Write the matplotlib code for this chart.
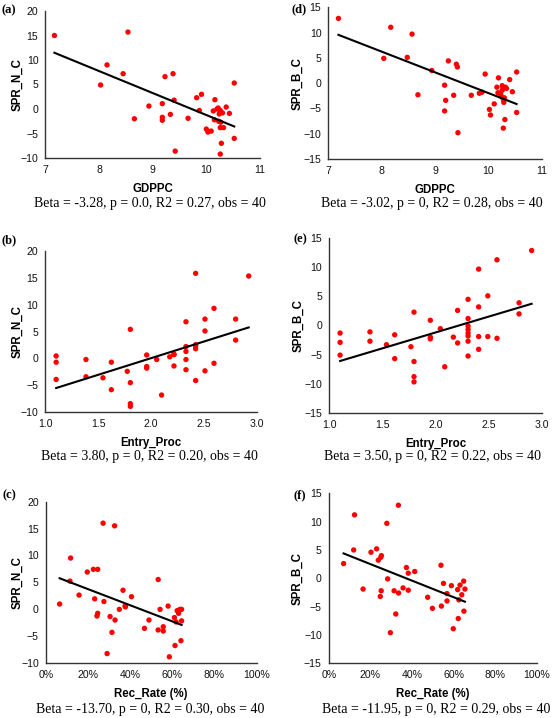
import numpy as np
import matplotlib.pyplot as plt
from matplotlib.ticker import PercentFormatter, FormatStrFormatter

W, H = 555, 718

# (a) GDPPC vs SPR_N_C
gdppc_a = [7.17, 8.54, 8.15, 8.03, 8.45, 8.66, 8.93, 9.18, 9.18, 9.18,
           9.23, 9.38, 9.40, 9.33, 9.42, 9.66, 9.82, 9.91, 9.87, 10.16,
           10.00, 10.03, 10.09, 10.13, 10.15, 10.22, 10.26, 10.30, 10.37, 10.43,
           10.52, 10.52, 10.26, 10.32, 10.28, 10.26, 10.23, 10.27, 10.20, 10.24]
spr_n_a = [15.0, 15.7, 9.0, 4.9, 7.2, -2.0, 0.6, 1.1, -1.7, -2.3,
           6.6, 7.2, 1.8, -1.1, -8.6, -1.9, 2.3, 3.0, -0.3, 1.9,
           -4.1, -4.7, -4.5, -0.4, -2.2, 0.2, -0.3, -0.8, 0.4, -0.9,
           5.3, -6.0, -3.8, -3.8, -7.0, -9.2, -2.5, -2.7, 0.0, -1.0]

# (d) GDPPC vs SPR_B_C
gdppc_d = [7.19, 8.17, 8.57, 8.04, 8.48, 8.68, 8.94, 9.25, 9.40, 9.42,
           9.18, 9.20, 9.18, 9.35, 9.43, 9.68, 9.83, 9.88, 9.94, 10.02,
           10.04, 10.11, 10.16, 10.19, 10.23, 10.26, 10.30, 10.29, 10.31, 10.28,
           10.34, 10.40, 10.45, 10.53, 10.53, 10.24, 10.28, 10.18, 10.32, 10.26]
spr_b_d = [12.8, 11.05, 9.7, 4.9, 5.1, -2.3, 2.5, 4.4, 3.75, 3.2,
           -0.4, -3.4, -5.5, -2.4, -9.8, -2.4, -2.0, -1.8, 1.8, -5.2,
           -6.3, -4.1, -0.8, 1.05, -2.2, -1.4, -2.9, -3.8, -7.2, -8.9,
           -1.05, 0.7, -1.7, 2.2, -5.8, -2.6, -3.2, -1.9, -0.8, -0.5]

# (b) Entry_Proc vs SPR_N_C
entry_b = [1.105, 1.105, 1.105, 1.386, 1.386, 1.546, 1.625, 1.625, 1.775, 1.804,
           1.804, 1.804, 1.804, 1.958, 1.958, 1.958, 2.052, 2.098, 2.175, 2.215,
           2.215, 2.328, 2.328, 2.328, 2.328, 2.328, 2.419, 2.419, 2.419, 2.419,
           2.507, 2.507, 2.507, 2.592, 2.592, 2.796, 2.796, 2.919, 2.419, 2.215]
spr_n_b = [0.46, -0.7, -3.9, -0.2, -3.4, -3.6, -0.7, -5.8, -2.4, 5.4,
           -4.5, -8.4, -8.9, 0.64, -1.5, -1.8, -0.2, -6.8, 0.3, 0.8,
           -1.4, 6.8, 2.2, 1.3, -0.2, -2.1, 15.8, 2.55, 1.8, -4.1,
           7.3, 5.1, -2.3, 9.3, -0.9, 7.3, 3.4, 15.3, 2.3, 0.7]

# (e) Entry_Proc vs SPR_B_C
entry_e = [1.104, 1.104, 1.104, 1.384, 1.384, 1.539, 1.616, 1.616, 1.768, 1.797,
           1.797, 1.797, 1.797, 1.950, 1.950, 1.950, 2.044, 2.085, 2.166, 2.206,
           2.206, 2.304, 2.304, 2.304, 2.304, 2.304, 2.304, 2.304, 2.304, 2.403,
           2.403, 2.403, 2.403, 2.489, 2.489, 2.575, 2.575, 2.782, 2.782, 2.900]
spr_b_e = [-1.3, -2.9, -5.1, -1.1, -2.7, -3.3, -1.6, -5.7, -3.65, 2.3,
           -6.2, -8.8, -9.7, 0.9, -2.0, -2.3, -0.55, -7.1, -2.0, 2.6,
           -3.0, 4.5, 1.2, -0.1, -0.7, -1.3, -1.8, -2.7, -5.25, 9.7,
           3.2, -1.9, -4.1, 5.1, -1.9, 11.3, -2.2, 3.9, 2.0, 12.9]

# (c) Rec_Rate (%) vs SPR_N_C
rec_c = [6.6, 11.8, 11.5, 15.8, 19.7, 22.6, 24.65, 23.2, 24.65, 24.3,
         27.2, 27.6, 29.1, 30.5, 32.65, 31.4, 32.85, 34.9, 36.65, 37.6,
         37.8, 40.65, 46.8, 48.95, 53.3, 53.3, 54.2, 55.7, 55.7, 58.0,
         58.6, 61.0, 61.3, 62.3, 63.0, 63.6, 64.1, 64.4, 64.4, 61.8]
spr_n_c = [0.93, 9.5, 5.2, 2.6, 6.9, 7.4, 7.4, 1.9, -0.8, -1.3,
           16.0, 1.4, -8.3, -1.4, 15.5, -4.35, -2.05, -0.06, 3.5, 0.55,
           0.4, 2.3, -3.6, -2.05, 5.5, -3.9, -0.06, -3.3, -4.1, 0.55,
           -8.9, -1.6, -6.8, -0.3, -0.8, -0.06, -5.9, -0.06, -2.2, -2.4]

# (f) Rec_Rate (%) vs SPR_B_C
rec_f = [7.15, 12.4, 12.0, 16.5, 20.3, 23.0, 23.8, 25.3, 25.0, 25.2,
         24.75, 27.9, 28.3, 29.6, 31.4, 32.2, 33.45, 33.55, 35.7, 37.3,
         38.2, 38.2, 41.3, 47.5, 49.8, 53.9, 54.1, 55.1, 56.8, 56.8,
         58.9, 59.8, 61.9, 62.5, 62.2, 63.05, 63.9, 64.8, 65.4, 64.9]
spr_b_f = [2.6, 11.2, 5.0, -1.9, 4.6, 5.2, 3.2, 4.0, 3.7, -2.2,
           -3.2, 9.7, -0.1, -9.6, -2.2, -6.3, 12.9, -2.6, -1.7, 1.9,
           0.9, -2.1, 1.2, -3.35, -5.3, 2.3, -4.9, -0.9, -2.7, -4.0,
           -1.3, -8.9, -2.0, -3.8, -7.1, -1.2, -2.9, -0.5, -1.9, -5.8]

captions = ['Beta = -3.28, p = 0.0, R2 = 0.27, obs = 40',
            'Beta = 3.80, p = 0, R2 = 0.20, obs = 40',
            'Beta = -13.70, p = 0, R2 = 0.30, obs = 40',
            'Beta = -3.02, p = 0, R2 = 0.28, obs = 40',
            'Beta = 3.50, p = 0, R2 = 0.22, obs = 40',
            'Beta = -11.95, p = 0, R2 = 0.29, obs = 40']

SANS = 'Liberation Sans'
SERIF = 'Liberation Serif'

fig = plt.figure(figsize=(W / 100, H / 100), dpi=100)


def panel(rect, x, y, xlabel, ylabel, xlim, xticks, ylim, yticks, fmt,
          letter, letter_xy, caption, cap_xy, ylab_off):
    left, top, right, bottom = rect
    w = right - left
    h = bottom - top
    ax = fig.add_axes([left / W, 1 - bottom / H, w / W, h / H])
    ax.scatter(x, y, s=15, color='#ff0000', edgecolors='none', zorder=3)
    # least squares line over the data range
    k, b = np.polyfit(x, y, 1)
    xs = np.array([min(x), max(x)])
    ax.plot(xs, k * xs + b, color='black', lw=1.5, zorder=4)
    ax.set_xlim(xlim)
    ax.set_ylim(ylim)
    ax.set_xticks(xticks)
    ax.set_yticks(yticks)
    ax.xaxis.set_major_formatter(fmt)
    for s in ['top', 'right']:
        ax.spines[s].set_visible(False)
    for s in ['left', 'bottom']:
        ax.spines[s].set_color('#333333')
        ax.spines[s].set_linewidth(1.0)
    ax.tick_params(length=0, labelsize=7.6, pad=5, labelcolor='#111111')
    for t in ax.get_xticklabels() + ax.get_yticklabels():
        t.set_fontfamily(SANS)
    ax.set_xlabel(xlabel, fontfamily=SANS, fontweight='bold', fontsize=8.3)
    ax.set_ylabel(ylabel, fontfamily=SANS, fontweight='bold', fontsize=8.3)
    ax.xaxis.set_label_coords(0.5, -25 / h)
    ax.yaxis.set_label_coords(-ylab_off / w, 0.5)
    fig.text(letter_xy[0] / W, 1 - letter_xy[1] / H, letter, fontfamily=SERIF,
             fontweight='bold', fontsize=9, ha='center', va='center')
    fig.text(cap_xy[0] / W, 1 - cap_xy[1] / H, caption, fontfamily=SERIF,
             fontsize=10, ha='center', va='center')
    return ax


num1 = FormatStrFormatter('%.1f')
num0 = FormatStrFormatter('%d')
pct = PercentFormatter(100, decimals=0)

panel((45.3, 11, 260, 158), gdppc_a, spr_n_a, 'GDPPC', 'SPR_N_C',
      (7, 11), range(7, 12), (-10, 20), range(-10, 21, 5), num0,
      '(a)', (9, 10.5), captions[0], (150, 204), 22)
panel((45, 250.7, 257.3, 412.3), entry_b, spr_n_b, 'Entry_Proc', 'SPR_N_C',
      (1, 3), np.arange(1, 3.01, 0.5), (-10, 20), range(-10, 21, 5), num1,
      '(b)', (9, 240.5), captions[1], (149, 456.7), 22)
panel((45.7, 501.7, 256.7, 662.7), rec_c, spr_n_c, 'Rec_Rate (%)', 'SPR_N_C',
      (0, 100), range(0, 101, 20), (-10, 20), range(-10, 21, 5), pct,
      '(c)', (9, 495), captions[2], (150.5, 709), 22)
panel((328.3, 7.3, 541.7, 159), gdppc_d, spr_b_d, 'GDPPC', 'SPR_B_C',
      (7, 11), range(7, 12), (-15, 15), range(-15, 16, 5), num0,
      '(d)', (299, 9), captions[3], (431.7, 204), 25)
panel((329, 238.3, 542.3, 412.7), entry_e, spr_b_e, 'Entry_Proc', 'SPR_B_C',
      (1, 3), np.arange(1, 3.01, 0.5), (-15, 15), range(-15, 16, 5), num1,
      '(e)', (300, 239), captions[4], (433, 456.7), 25)
panel((328.7, 493.3, 537, 663.3), rec_f, spr_b_f, 'Rec_Rate (%)', 'SPR_B_C',
      (0, 100), range(0, 101, 20), (-15, 15), range(-15, 16, 5), pct,
      '(f)', (300, 495), captions[5], (435.7, 709), 25)

plt.savefig('out.png', dpi=100)
plt.close()
